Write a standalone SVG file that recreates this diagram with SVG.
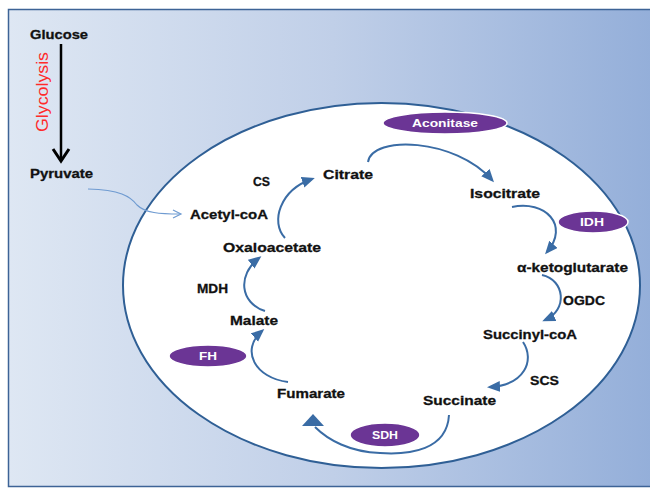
<svg xmlns="http://www.w3.org/2000/svg" width="650" height="488" viewBox="0 0 650 488">
<defs>
<linearGradient id="bg" x1="0" y1="0" x2="1" y2="0">
<stop offset="0" stop-color="#dee7f3"/>
<stop offset="0.5" stop-color="#c0cfe8"/>
<stop offset="1" stop-color="#93aed9"/>
</linearGradient>
<marker id="head" markerUnits="userSpaceOnUse" markerWidth="15" markerHeight="13" refX="10" refY="5.5" orient="auto">
<path d="M0,0 L13,5.5 L0,11 Z" fill="#3a6ca5"/>
</marker>
</defs>
<style>
.lbl{font-family:"Liberation Sans",Arial,sans-serif;font-weight:bold;font-size:13px;fill:#111;stroke:#111;stroke-width:0.3;}
.enz{font-family:"Liberation Sans",Arial,sans-serif;font-weight:bold;font-size:11px;fill:#fff;}
.ell{fill:#6b3595;stroke:#fff;stroke-width:1.5;}
.cyc{fill:none;stroke:#3a6ca5;stroke-width:2;marker-end:url(#head);}
</style>
<rect x="8.5" y="9.5" width="650" height="477" fill="url(#bg)" stroke="#3d6396" stroke-width="1.5"/>
<ellipse id="mito" cx="381.5" cy="285.5" rx="258.5" ry="182.5" fill="#fff" stroke="#2f5f95" stroke-width="2"/>

<g id="connectors">
<line x1="61" y1="44" x2="61" y2="159" stroke="#000" stroke-width="2.5"/>
<path d="M53,149 L61,161 L69,149" fill="none" stroke="#000" stroke-width="3"/>
<path d="M88,189 C120,190 130,196 137,205 C145,213 160,214 180,214" fill="none" stroke="#6f9bd1" stroke-width="1.2"/>
<path d="M173,210 L181,214 L173,218" fill="none" stroke="#6f9bd1" stroke-width="1.2"/>
<path class="cyc" d="M285,238 C270,222 280,190 312,179"/>
<path class="cyc" d="M368,162 C372,135 455,138 492,180"/>
<path class="cyc" d="M512,207 C545,200 570,225 547,252"/>
<path class="cyc" d="M542,275 C565,280 568,310 545,320"/>
<path class="cyc" d="M523,342 C535,360 525,385 490,387"/>
<path d="M449,415 C447,450 410,455 380,453 C350,452 328,440 315,427" fill="none" stroke="#3a6ca5" stroke-width="2"/>
<polygon points="302,426 324,426 313,414" fill="#3a6ca5"/>
<path class="cyc" d="M288,382 C255,378 240,350 262,331"/>
<path class="cyc" d="M265,311 C240,303 237,275 259,258"/>
</g>

<g id="glucose"><text class="lbl" x="30" y="39" textLength="58" lengthAdjust="spacingAndGlyphs">Glucose</text></g>
<g id="glycolysis"><text transform="translate(47.5,92) rotate(-90)" text-anchor="middle" font-family="Liberation Sans, Arial, sans-serif" font-size="16" fill="#ff2a2a" textLength="80" lengthAdjust="spacingAndGlyphs">Glycolysis</text></g>
<g id="pyruvate"><text class="lbl" x="30" y="178" textLength="63" lengthAdjust="spacingAndGlyphs">Pyruvate</text></g>
<g id="acetylcoa"><text class="lbl" x="190" y="219" textLength="78" lengthAdjust="spacingAndGlyphs">Acetyl-coA</text></g>
<g id="cs"><text class="lbl" x="253" y="186" textLength="17" lengthAdjust="spacingAndGlyphs">CS</text></g>
<g id="citrate"><text class="lbl" x="323" y="179" textLength="50" lengthAdjust="spacingAndGlyphs">Citrate</text></g>
<g id="oxaloacetate"><text class="lbl" x="223" y="252" textLength="98" lengthAdjust="spacingAndGlyphs">Oxaloacetate</text></g>
<g id="mdh"><text class="lbl" x="197" y="293" textLength="31" lengthAdjust="spacingAndGlyphs">MDH</text></g>
<g id="malate"><text class="lbl" x="230" y="325" textLength="48" lengthAdjust="spacingAndGlyphs">Malate</text></g>
<g id="fumarate"><text class="lbl" x="277" y="398" textLength="68" lengthAdjust="spacingAndGlyphs">Fumarate</text></g>
<g id="succinate"><text class="lbl" x="423" y="405" textLength="73" lengthAdjust="spacingAndGlyphs">Succinate</text></g>
<g id="scs"><text class="lbl" x="530" y="385" textLength="29" lengthAdjust="spacingAndGlyphs">SCS</text></g>
<g id="succinylcoa"><text class="lbl" x="483" y="339" textLength="94" lengthAdjust="spacingAndGlyphs">Succinyl-coA</text></g>
<g id="ogdc"><text class="lbl" x="563" y="305" textLength="42" lengthAdjust="spacingAndGlyphs">OGDC</text></g>
<g id="aketoglutarate"><text class="lbl" x="517" y="272" textLength="111" lengthAdjust="spacingAndGlyphs">α-ketoglutarate</text></g>
<g id="isocitrate"><text class="lbl" x="470" y="198" textLength="70" lengthAdjust="spacingAndGlyphs">Isocitrate</text></g>

<g id="aconitase"><ellipse class="ell" cx="445" cy="123" rx="62" ry="11"/><text class="enz" x="412" y="127" textLength="66" lengthAdjust="spacingAndGlyphs">Aconitase</text></g>
<g id="idh"><ellipse class="ell" cx="593" cy="222" rx="35" ry="11"/><text class="enz" x="580" y="226" textLength="24" lengthAdjust="spacingAndGlyphs">IDH</text></g>
<g id="fh"><ellipse class="ell" cx="208" cy="356" rx="39" ry="11"/><text class="enz" x="199" y="360" textLength="18" lengthAdjust="spacingAndGlyphs">FH</text></g>
<g id="sdh"><ellipse class="ell" cx="385" cy="435" rx="35" ry="12"/><text class="enz" x="372" y="439" textLength="26" lengthAdjust="spacingAndGlyphs">SDH</text></g>
</svg>
